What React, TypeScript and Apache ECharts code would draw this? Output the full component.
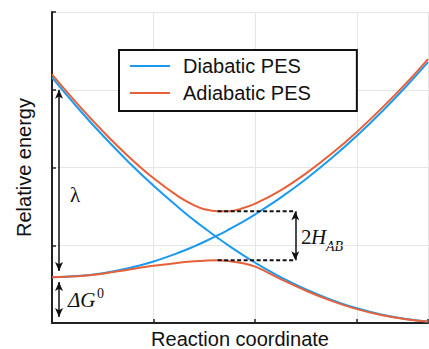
import React, { useEffect, useRef } from 'react';
import * as echarts from 'echarts';

// reaction coordinate samples
const xs = [0, 0.25, 0.5, 0.75, 1.0, 1.25, 1.4, 1.5, 1.625, 1.75, 1.85, 2.0, 2.25, 2.5, 2.75, 3.0, 3.25, 3.5, 3.7];
// diabatic PES (blue)
const diabaticReactant = [0.590, 0.603, 0.641, 0.704, 0.792, 0.906, 0.986, 1.045, 1.123, 1.209, 1.281, 1.398, 1.613, 1.853, 2.118, 2.408, 2.724, 3.065, 3.355];
const diabaticProduct = [3.159, 2.772, 2.411, 2.075, 1.765, 1.480, 1.320, 1.220, 1.099, 0.985, 0.898, 0.775, 0.591, 0.432, 0.298, 0.189, 0.106, 0.048, 0.020];
// adiabatic PES (orange)
const adiabaticUpper = [3.198, 2.818, 2.467, 2.146, 1.861, 1.623, 1.514, 1.464, 1.436, 1.438, 1.465, 1.535, 1.707, 1.925, 2.176, 2.458, 2.770, 3.105, 3.395];
const adiabaticLower = [0.590, 0.601, 0.634, 0.686, 0.735, 0.776, 0.793, 0.801, 0.806, 0.795, 0.775, 0.725, 0.565, 0.415, 0.285, 0.178, 0.099, 0.044, 0.017];
// coupling gap markers
const couplingX = [1.63, 2.394];
const couplingLevels = [1.436, 0.806];
// energy arrows (left side)
const arrowX = 0.069;
const lambdaRange = [3.0, 0.669];
const deltaGRange = [0.527, 0.077];

const BLUE = '#1b9af0';
const ORANGE = '#e6613a';
const INK = '#111';
const SANS = 'Liberation Sans, Arial, sans-serif';
const SERIF = 'Liberation Serif, Times New Roman, serif';

export default function App() {
  const ref = useRef<HTMLDivElement>(null);
  useEffect(() => {
    const chart = echarts.init(ref.current!, null, { renderer: 'svg' });
    const pair = (ys: number[]) => xs.map((x, i) => [x, ys[i]]);
    const curve = (name: string, ys: number[], color: string, z: number) => ({
      type: 'line',
      name,
      data: pair(ys),
      smooth: 0.4,
      symbol: 'none',
      lineStyle: { color, width: 2 },
      itemStyle: { color },
      z,
      silent: true,
    });
    const dashed = (level: number) => ({
      type: 'line',
      name: 'gap',
      data: couplingX.map((x) => [x, level]),
      symbol: 'none',
      lineStyle: { color: INK, width: 2, type: [4, 2.5] },
      z: 4,
      silent: true,
    });
    const axisCommon = {
      type: 'value',
      axisLabel: { show: false },
      axisLine: { show: true, onZero: false, lineStyle: { color: '#222', width: 2 } },
      axisTick: { show: true, inside: true, length: 4, lineStyle: { color: '#222', width: 1.5 } },
      splitLine: { show: true, lineStyle: { color: '#e6e6e6', width: 1 } },
      nameTextStyle: { fontSize: 20, lineHeight: 20, fontFamily: SANS, color: INK },
    };
    chart.setOption({
      animation: false,
      grid: { left: 52, top: 12, right: 1, bottom: 26, containLabel: false, outerBoundsMode: 'none' },
      xAxis: {
        ...axisCommon,
        min: 0,
        max: 3.7,
        interval: 1,
        name: 'Reaction coordinate',
        nameLocation: 'middle',
        nameGap: 6,
      },
      yAxis: {
        ...axisCommon,
        min: 0,
        max: 4,
        interval: 1,
        name: 'Relative energy',
        nameLocation: 'middle',
        nameGap: 18,
      },
      legend: {
        data: ['Diabatic PES', 'Adiabatic PES'],
        orient: 'vertical',
        left: 119,
        top: 50,
        padding: [6, 46, 8, 11],
        itemGap: 7,
        itemWidth: 40,
        itemHeight: 2,
        icon: 'rect',
        borderColor: INK,
        borderWidth: 2,
        borderRadius: 0,
        backgroundColor: '#fff',
        selectedMode: false,
        textStyle: { fontFamily: SANS, fontSize: 20, color: INK, padding: [0, 0, 0, 8], lineHeight: 20 },
      },
      series: [
        curve('Diabatic PES', diabaticReactant, BLUE, 2),
        curve('Diabatic PES', diabaticProduct, BLUE, 2),
        curve('Adiabatic PES', adiabaticUpper, ORANGE, 3),
        curve('Adiabatic PES', adiabaticLower, ORANGE, 3),
        dashed(couplingLevels[0]),
        dashed(couplingLevels[1]),
        {
          type: 'line',
          name: 'arrows',
          data: [],
          markLine: {
            silent: true,
            symbol: ['arrow', 'arrow'],
            symbolSize: [6, 9],
            label: { show: false },
            lineStyle: { color: INK, width: 1.5, type: 'solid' },
            emphasis: { disabled: true },
            data: [
              [{ coord: [arrowX, lambdaRange[0]] }, { coord: [arrowX, lambdaRange[1]] }],
              [{ coord: [arrowX, deltaGRange[0]] }, { coord: [arrowX, deltaGRange[1]] }],
              [{ coord: [couplingX[1], couplingLevels[0]] }, { coord: [couplingX[1], couplingLevels[1]] }],
            ],
          },
        },
      ],
      graphic: [
        { type: 'text', x: 70, y: 195, style: { text: 'λ', fontSize: 21, fontFamily: SERIF, fill: INK, verticalAlign: 'middle', textVerticalAlign: 'middle' } },
        { type: 'text', x: 68, y: 300, style: { text: 'ΔG', fontSize: 21, fontStyle: 'italic', fontFamily: SERIF, fill: INK, verticalAlign: 'middle', textVerticalAlign: 'middle' } },
        { type: 'text', x: 97, y: 293, style: { text: '0', fontSize: 14, fontFamily: SERIF, fill: INK, verticalAlign: 'middle', textVerticalAlign: 'middle' } },
        { type: 'text', x: 301, y: 237, style: { text: '2', fontSize: 21, fontFamily: SERIF, fill: INK, verticalAlign: 'middle', textVerticalAlign: 'middle' } },
        { type: 'text', x: 311, y: 237, style: { text: 'H', fontSize: 21, fontStyle: 'italic', fontFamily: SERIF, fill: INK, verticalAlign: 'middle', textVerticalAlign: 'middle' } },
        { type: 'text', x: 326, y: 246, style: { text: 'AB', fontSize: 14, fontStyle: 'italic', fontFamily: SERIF, fill: INK, verticalAlign: 'middle', textVerticalAlign: 'middle' } },
      ],
    });
    return () => chart.dispose();
  }, []);
  return <div ref={ref} style={{ position: 'absolute', left: 0, top: 0, width: 429, height: 349 }} />;
}
